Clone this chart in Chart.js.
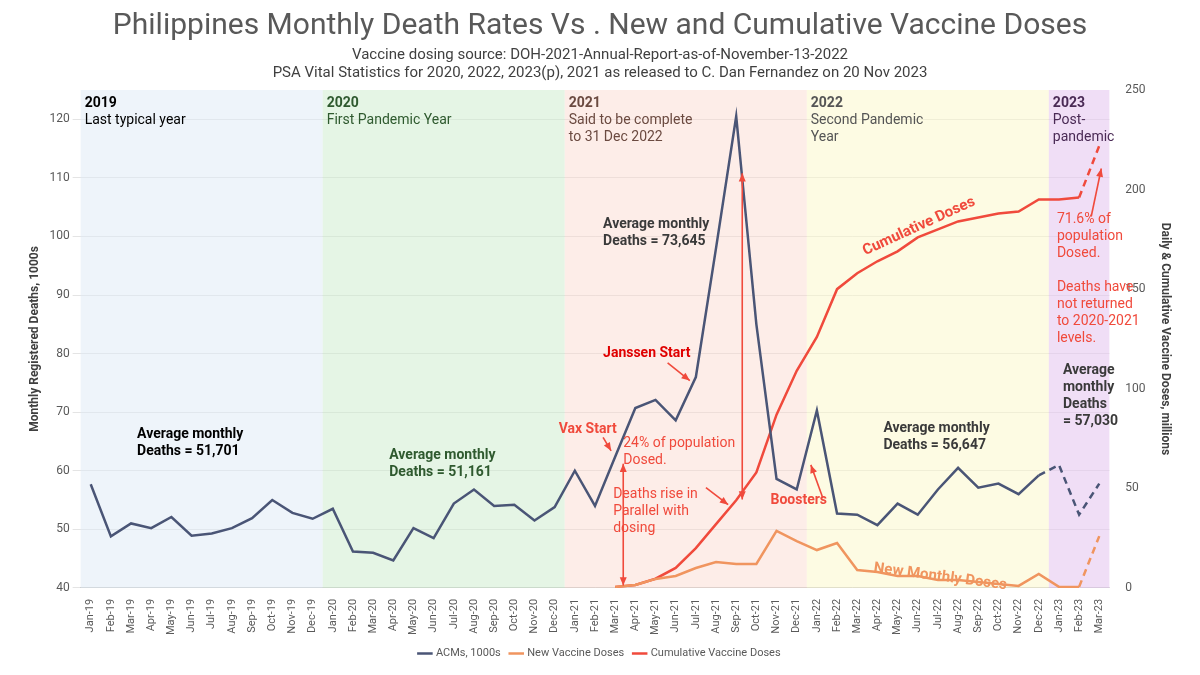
<!DOCTYPE html>
<html><head><meta charset="utf-8">
<script src="https://cdn.jsdelivr.net/npm/chart.js@4/dist/chart.umd.min.js"></script>
<style>html,body{margin:0;background:#fff}#w{width:1200px;height:675px}</style>
</head><body><div id="w"><canvas id="c"></canvas></div>
<script>
const months=["Jan-19","Feb-19","Mar-19","Apr-19","May-19","Jun-19","Jul-19","Aug-19","Sep-19","Oct-19","Nov-19","Dec-19",
"Jan-20","Feb-20","Mar-20","Apr-20","May-20","Jun-20","Jul-20","Aug-20","Sep-20","Oct-20","Nov-20","Dec-20",
"Jan-21","Feb-21","Mar-21","Apr-21","May-21","Jun-21","Jul-21","Aug-21","Sep-21","Oct-21","Nov-21","Dec-21",
"Jan-22","Feb-22","Mar-22","Apr-22","May-22","Jun-22","Jul-22","Aug-22","Sep-22","Oct-22","Nov-22","Dec-22",
"Jan-23","Feb-23","Mar-23"];
const acms=[57.7,48.8,51,50.2,52.1,48.9,49.3,50.2,51.9,55,52.8,51.8,
53.5,46.2,46,44.7,50.2,48.5,54.4,56.8,54,54.2,51.5,53.8,
60,54,62.4,70.7,72.1,68.6,76,98,120.5,85,58.6,56.8,
70.3,52.7,52.5,50.7,54.4,52.5,56.8,60.5,57.1,57.8,56,59.2,
61,52.5,57.8];
const newDoses=[...Array(26).fill(null),0.5,1.5,4.5,6,10,13,12,12,28.6,23.5,19,22.5,9,8,6,6,4,4,3,2,1,7,0.5,0.5,26];
const cumDoses=[...Array(26).fill(null),0.5,1.5,4.6,10,20,32,44,58,87,109,126,150,158,164,169,176,180,184,186,188,189,195,195,196,222];
const bands=[{from:-0.5,to:11.5,c:"rgba(222,234,246,0.5)",t:"2019",s:"Last typical year",tc:"#000"},
{from:11.5,to:23.5,c:"rgba(204,236,204,0.5)",t:"2020",s:"First Pandemic Year",tc:"#2f5a2f"},
{from:23.5,to:35.5,c:"rgba(250,215,205,0.45)",t:"2021",s:"Said to be complete\nto 31 Dec 2022",tc:"#6b4a40"},
{from:35.5,to:47.5,c:"rgba(252,248,200,0.5)",t:"2022",s:"Second Pandemic\nYear",tc:"#555"},
{from:47.5,to:50.5,c:"rgba(230,200,240,0.6)",t:"2023",s:"Post-\npandemic",tc:"#4a2a55"}];
const NAVY="#4A5576",ORANGE="#F0955F",RED="#F04A3C";
const notes={
id:"notes",
beforeDatasetsDraw(ch){const {ctx,chartArea:a,scales:{x}}=ch;ctx.save();
 bands.forEach(b=>{const l=Math.max(a.left,x.getPixelForValue(b.from)),r=Math.min(a.right,x.getPixelForValue(b.to));
  ctx.fillStyle=b.c;ctx.fillRect(l,a.top,r-l,a.bottom-a.top);
  ctx.fillStyle=b.tc;ctx.font="bold 14px Roboto";ctx.textBaseline="top";ctx.fillText(b.t,l+4,a.top+6);
  ctx.font="14px Roboto";b.s.split("\n").forEach((s,i)=>ctx.fillText(s,l+4,a.top+23+i*17));});
 ctx.restore();},
afterDatasetsDraw(ch){const {ctx,scales:{x,y,y2}}=ch;const X=v=>x.getPixelForValue(v),Y=v=>y.getPixelForValue(v);
 ctx.save();ctx.textBaseline="alphabetic";
 const txt=(s,i,v,col,bold,sz)=>{ctx.fillStyle=col;ctx.font=(bold?"bold ":"")+(sz||14)+"px Roboto";s.split("\n").forEach((l,k)=>ctx.fillText(l,X(i),Y(v)+k*17));};
 txt("Average monthly\nDeaths = 51,701",2.3,65.6,"#000",true);
 txt("Average monthly\nDeaths = 51,161",14.8,62,"#2f5a2f",true);
 txt("Average monthly\nDeaths = 73,645",25.4,101.4,"#3a3a3a",true);
 txt("Average monthly\nDeaths = 56,647",39.3,66.6,"#3a3a3a",true);
 txt("Average\nmonthly\nDeaths\n= 57,030",48.2,76.5,"#3a3a3a",true);
 txt("Janssen Start",25.4,79.5,"#E00000",true);
 txt("Vax Start",23.2,66.5,RED,true);
 txt("24% of population\nDosed.",26.4,64,RED,false);
 txt("Deaths rise in\nParallel with\ndosing",25.9,55.4,RED,false);
 txt("Boosters",33.7,54.3,RED,true);
 txt("71.6% of\npopulation\nDosed.\n\nDeaths have\nnot returned\nto 2020-2021\nlevels.",47.9,102.3,RED,false);
 const arrow=(x1,y1,x2,y2,both)=>{const a=[X(x1),Y(y1),X(x2),Y(y2)];ctx.strokeStyle=RED;ctx.fillStyle=RED;ctx.lineWidth=1.6;
  ctx.beginPath();ctx.moveTo(a[0],a[1]);ctx.lineTo(a[2],a[3]);ctx.stroke();
  const head=(px,py,qx,qy)=>{const ang=Math.atan2(py-qy,px-qx);ctx.beginPath();ctx.moveTo(px,py);
   ctx.lineTo(px-9*Math.cos(ang-0.4),py-9*Math.sin(ang-0.4));ctx.lineTo(px-9*Math.cos(ang+0.4),py-9*Math.sin(ang+0.4));ctx.fill();};
  head(a[2],a[3],a[0],a[1]);if(both)head(a[0],a[1],a[2],a[3]);};
 arrow(28.6,78.4,29.7,75.4);
 arrow(25.4,65.7,25.8,63.4);
 arrow(26.4,61.2,26.4,40.4,true);
 arrow(32.3,110.8,32.3,55.1,true);
 arrow(30.5,57.1,31.6,54.2);
 arrow(36.3,55.3,35.7,61);
 arrow(49.6,103.4,50.1,111.6);
 ctx.fillStyle=RED;ctx.font="bold 15px Roboto";ctx.translate(X(38.4),y2.getPixelForValue(167));ctx.rotate(-0.43);ctx.fillText("Cumulative Doses",0,0);
 ctx.setTransform(1,0,0,1,0,0);ctx.scale(ch.currentDevicePixelRatio,ch.currentDevicePixelRatio);
 ctx.fillStyle=ORANGE;ctx.translate(X(38.8),y2.getPixelForValue(8));ctx.rotate(0.13);ctx.fillText("New Monthly Doses",0,0);
 ctx.restore();}};
new Chart(document.getElementById("c"),{type:"line",
data:{labels:months,datasets:[
{label:"ACMs, 1000s",data:acms,borderColor:NAVY,backgroundColor:NAVY,borderWidth:2.5,pointRadius:0,yAxisID:"y",
 segment:{borderDash:c=>c.p0DataIndex>=47?[7,5]:undefined}},
{label:"New Vaccine Doses",data:newDoses,borderColor:ORANGE,backgroundColor:ORANGE,borderWidth:2.5,pointRadius:0,yAxisID:"y2",
 segment:{borderDash:c=>c.p0DataIndex>=49?[7,5]:undefined}},
{label:"Cumulative Vaccine Doses",data:cumDoses,borderColor:RED,backgroundColor:RED,borderWidth:2.5,pointRadius:0,yAxisID:"y2",
 segment:{borderDash:c=>c.p0DataIndex>=49?[7,5]:undefined}}]},
options:{responsive:true,maintainAspectRatio:false,animation:false,
layout:{padding:{left:24,right:24,top:0,bottom:6}},
plugins:{title:{display:true,text:"Philippines Monthly Death Rates Vs . New and Cumulative Vaccine Doses",color:"#595959",font:{family:"Roboto",size:30,weight:"normal"},padding:{top:8,bottom:2}},
subtitle:{display:true,text:["Vaccine dosing source: DOH-2021-Annual-Report-as-of-November-13-2022","PSA Vital Statistics for 2020, 2022, 2023(p), 2021 as released to C. Dan Fernandez on 20 Nov 2023"],color:"#404040",font:{family:"Roboto",size:15},padding:{bottom:8}},
legend:{position:"bottom",labels:{usePointStyle:true,pointStyle:"line",boxWidth:30,color:"#595959",font:{family:"Roboto",size:11}}},tooltip:{enabled:false}},
scales:{x:{offset:true,grid:{display:false},ticks:{color:"#595959",font:{family:"Roboto",size:11},maxRotation:90,minRotation:90,autoSkip:false}},
y:{min:40,max:125,position:"left",afterBuildTicks:s=>{s.ticks=[40,50,60,70,80,90,100,110,120].map(v=>({value:v}));},
 grid:{color:"#e4e4e4"},border:{display:false},ticks:{color:"#595959",font:{family:"Roboto",size:12}},
 title:{display:true,text:"Monthly Registered Deaths, 1000s",color:"#404040",font:{family:"Roboto",size:12,weight:"bold"}}},
y2:{min:0,max:250,position:"right",grid:{display:false},border:{display:false},ticks:{stepSize:50,color:"#595959",font:{family:"Roboto",size:12},padding:8},
 title:{display:true,text:"Daily & Cumulative Vaccine Doses, millions",color:"#404040",font:{family:"Roboto",size:12,weight:"bold"}}}}},
plugins:[notes]});
</script></body></html>
